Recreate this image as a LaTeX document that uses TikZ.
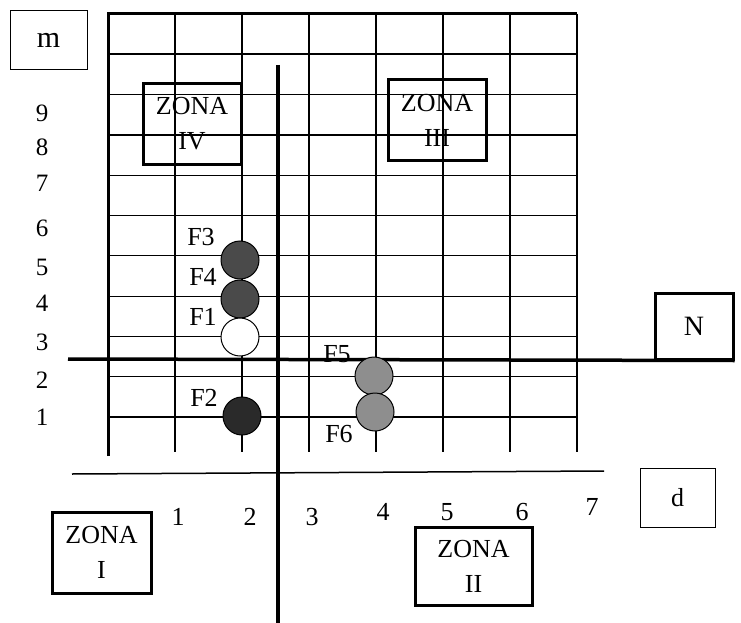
\documentclass[tikz,border=0pt]{standalone}
\usepackage{fontspec}
\setmainfont{Liberation Serif}
\newcommand\lblfont{\fontsize{25}{30}\selectfont}
\newcommand\colfont{\fontsize{26}{30}\selectfont}
\newcommand\zonefont{\fontsize{26}{35}\selectfont}
\definecolor{discdark}{HTML}{4A4A4A}
\definecolor{discblack}{HTML}{2A2A2A}
\definecolor{disclight}{HTML}{8E8E8E}
\begin{document}
\begin{tikzpicture}[x=1pt,y=-1pt,
  gridline/.style={line width=1.2pt},
  borderline/.style={line width=3pt},
  axisline/.style={line width=3.5pt},
  baseline2/.style={line width=1.5pt},
  lbl/.style={font=\lblfont, inner sep=0pt},
  clbl/.style={font=\colfont, inner sep=0pt},
  flbl/.style={font=\zonefont, inner sep=0pt},
  thinbox/.style={draw, line width=1pt, inner sep=0pt},
  zonebox/.style={draw, line width=3pt, font=\zonefont, align=center, inner sep=0pt, fill=white},
  disc/.style={circle, draw, line width=1pt, minimum size=38pt, inner sep=0pt}]
\useasboundingbox (0,0) rectangle (741,623);
% grid
\foreach \i in {0,...,7} \draw[gridline] ({108+67*\i},14) -- ({108+67*\i},452);
\foreach \j in {0,...,10} \draw[gridline] (108,{14+40.3*\j}) -- (577,{14+40.3*\j});
\draw[borderline] (108,456) -- (108,14) -- (577,14);
\draw[line width=2.5pt] (577,14) -- (577,452);
\draw[line width=2.5pt] (108,54) -- (577,54);
% boxes
\node[thinbox, font=\fontsize{30}{30}\selectfont, minimum width=77pt, minimum height=59pt] (m) at (48.5,40.5) {m};
\node[thinbox, font=\fontsize{26}{30}\selectfont, minimum width=75pt, minimum height=59pt] (d) at (677.5,497.5) {d};
\node[zonebox, font=\fontsize{28}{30}\selectfont, minimum width=78pt, minimum height=66pt] (N) at (694,326) {N};
\node[zonebox, minimum width=98pt, minimum height=80pt, fill=none] (z4) at (192,124) {ZONA\\IV};
\node[zonebox, minimum width=98pt, minimum height=80pt, fill=none] (z3) at (437,120) {ZONA\\III};
\node[zonebox, minimum width=99pt, minimum height=81pt] (z1) at (101.5,552.5) {ZONA\\I};
\node[zonebox, minimum width=117pt, minimum height=78pt] (z2) at (473.5,566) {ZONA\\II};
% axes
\coordinate (vtop) at (278,65);
\coordinate (vbot) at (278,623);
\coordinate (hleft) at (68,359);
\draw[axisline] (vtop) -- (vbot);
\draw[axisline] (hleft) -- (N.south east);
\coordinate (bl) at (72,474);
\coordinate (br) at (604,471);
\draw[baseline2] (bl) -- (br);
% row numbers
\foreach \n/\yy in {9/113,8/147,7/183,6/228,5/267,4/303,3/342,2/380,1/417}
  \node[lbl] (r\n) at (42,\yy) {\n};
% column numbers
\foreach \n/\xx/\yy in {1/178/517,2/250/517,3/312/517,4/383/512,5/447/512,6/522/512,7/592/507}
  \node[clbl] (c\n) at (\xx,\yy) {\n};
% discs
\node[disc, fill=discdark] (f3) at (240,260) {};
\node[disc, fill=discdark] (f4) at (240,299) {};
\node[disc, fill=white] (f1) at (240,337) {};
\node[disc, fill=discblack] (f2) at (242,416) {};
\node[disc, fill=disclight] (f5) at (374,376) {};
\node[disc, fill=disclight] (f6) at (375,412) {};
% disc labels
\node[flbl] (lf3) at (201,237) {F3};
\node[flbl] (lf4) at (203,277) {F4};
\node[flbl] (lf1) at (203,317) {F1};
\node[flbl] (lf2) at (204,398) {F2};
\node[flbl] (lf5) at (337,354) {F5};
\node[flbl] (lf6) at (339,434) {F6};
\end{tikzpicture}
\end{document}
